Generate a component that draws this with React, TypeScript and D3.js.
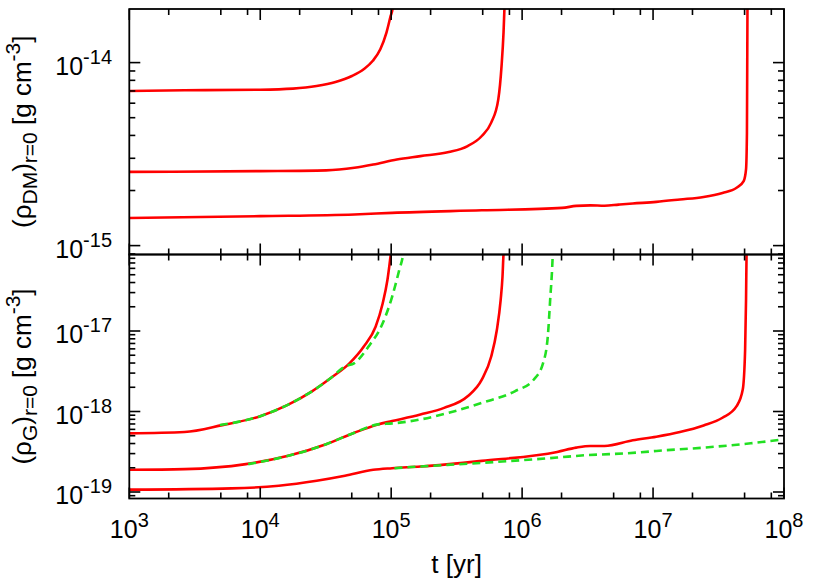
import React from "react";
import * as d3 from "d3";

// ---------- layout ----------
const W = 830;
const H = 581;
const X0 = 129.3;
const X1 = 784;
const TOP0 = 9;
const SEP = 254.5;
const BOT1 = 498.5;
const FONT = "'Liberation Sans', Arial, Helvetica, sans-serif";

// ---------- axes ----------
const xDomain = [1e3, 1e8];
const topDomainLog = [-15.0486, -13.7071];
const botDomainLog = [-19.0807, -16.0497];
const xTickExps = [3, 4, 5, 6, 7, 8];
const xMinorMult = [2, 5, 8];
const topTickExps = [-15, -14];
const botTickExps = [-19, -18, -17];
const yMinorMult = [2, 3, 4, 5, 6, 7, 8, 9];

// ---------- data (log10 t [yr], log10 rho [g cm^-3]) ----------
// Dark matter central density (top panel)
const dmA_logT = [3.0, 3.422, 4.0, 4.25, 4.43, 4.575, 4.7, 4.79, 4.86, 4.917, 4.964, 4.996, 5.011, 5.015];
const dmA_logRho = [-14.155, -14.151, -14.148, -14.142, -14.128, -14.106, -14.073, -14.036, -13.99, -13.927, -13.836, -13.745, -13.704, -13.65];

const dmB_logT = [3.0, 4.0, 4.503, 4.719, 4.863, 5.043, 5.223, 5.44, 5.584, 5.692, 5.764, 5.818, 5.843, 5.858, 5.865, 5.868];
const dmB_logRho = [-14.597, -14.593, -14.589, -14.575, -14.557, -14.529, -14.511, -14.489, -14.456, -14.401, -14.328, -14.201, -14.018, -13.836, -13.704, -13.65];

const dmC_logT = [3.0, 4.0, 4.719, 5.007, 5.692, 6.305, 6.413, 6.521, 6.629, 6.737, 6.845, 7.025, 7.205, 7.386, 7.53, 7.638, 7.692, 7.71, 7.717, 7.721, 7.722];
const dmC_logRho = [-14.849, -14.839, -14.83, -14.821, -14.807, -14.794, -14.783, -14.78, -14.782, -14.776, -14.77, -14.761, -14.748, -14.734, -14.712, -14.684, -14.648, -14.584, -14.383, -13.704, -13.65];

// Gas central density (bottom panel), red solid
const gasA_logT = [3.0, 3.422, 3.71, 4.0, 4.214, 4.395, 4.539, 4.683, 4.791, 4.881, 4.935, 4.971, 4.996, 5.005];
const gasA_logRho = [-18.272, -18.255, -18.169, -18.058, -17.914, -17.749, -17.584, -17.399, -17.193, -16.947, -16.658, -16.37, -16.062, -15.95];

const gasB_logT = [3.0, 3.422, 3.89, 4.214, 4.503, 4.719, 4.899, 5.007, 5.223, 5.404, 5.584, 5.692, 5.764, 5.807, 5.836, 5.85, 5.858, 5.862];
const gasB_logRho = [-18.724, -18.716, -18.654, -18.551, -18.407, -18.263, -18.16, -18.119, -18.037, -17.955, -17.811, -17.605, -17.317, -16.988, -16.617, -16.329, -16.04, -15.95];

const gasC_logT = [3.0, 3.782, 4.142, 4.431, 4.647, 4.863, 5.007, 5.223, 5.692, 6.268, 6.413, 6.521, 6.629, 6.845, 7.025, 7.205, 7.386, 7.53, 7.638, 7.685, 7.703, 7.71, 7.714, 7.716];
const gasC_logRho = [-18.971, -18.955, -18.922, -18.86, -18.798, -18.724, -18.704, -18.683, -18.613, -18.502, -18.449, -18.428, -18.428, -18.358, -18.313, -18.255, -18.173, -18.078, -17.934, -17.728, -17.235, -16.617, -16.06, -15.95];

// Gas central density, green dashed
const gasA2_logT = [3.692, 4.0, 4.214, 4.395, 4.539, 4.647, 4.719, 4.827, 4.935, 5.007, 5.061, 5.09, 5.1];
const gasA2_logRho = [-18.169, -18.058, -17.914, -17.749, -17.584, -17.44, -17.399, -17.193, -16.905, -16.576, -16.247, -16.06, -15.95];

const gasB2_logT = [3.908, 4.214, 4.503, 4.719, 4.899, 5.007, 5.223, 5.44, 5.692, 5.944, 6.088, 6.16, 6.196, 6.214, 6.232, 6.236];
const gasB2_logRho = [-18.654, -18.551, -18.407, -18.263, -18.16, -18.148, -18.099, -18.016, -17.893, -17.749, -17.605, -17.399, -17.07, -16.617, -16.123, -15.95];

const gasC2_logT = [5.025, 5.223, 5.692, 6.268, 6.485, 6.665, 6.881, 7.025, 7.386, 7.746, 8.0];
const gasC2_logRho = [-18.704, -18.683, -18.638, -18.572, -18.543, -18.53, -18.51, -18.49, -18.449, -18.395, -18.346];

type P = { t: number; v: number };
const pts = (lt: number[], lv: number[]): P[] =>
  lt.map((a, i) => ({ t: Math.pow(10, a), v: Math.pow(10, lv[i]) }));

const RED = "#ff0000";
const GREEN = "#22e022";

export default function App() {
  const x = d3.scaleLog().domain(xDomain).range([X0, X1]);
  const yTop = d3
    .scaleLog()
    .domain(topDomainLog.map((d) => Math.pow(10, d)))
    .range([SEP, TOP0]);
  const yBot = d3
    .scaleLog()
    .domain(botDomainLog.map((d) => Math.pow(10, d)))
    .range([BOT1, SEP]);

  const lineTop = d3
    .line<P>()
    .x((d) => x(d.t))
    .y((d) => yTop(d.v))
    .curve(d3.curveMonotoneX);
  const lineBot = d3
    .line<P>()
    .x((d) => x(d.t))
    .y((d) => yBot(d.v))
    .curve(d3.curveMonotoneX);

  const topRed = [
    pts(dmA_logT, dmA_logRho),
    pts(dmB_logT, dmB_logRho),
    pts(dmC_logT, dmC_logRho),
  ];
  const botRed = [
    pts(gasA_logT, gasA_logRho),
    pts(gasB_logT, gasB_logRho),
    pts(gasC_logT, gasC_logRho),
  ];
  const botGreen = [
    pts(gasA2_logT, gasA2_logRho),
    pts(gasB2_logT, gasB2_logRho),
    pts(gasC2_logT, gasC2_logRho),
  ];

  const MAJ = 11;
  const MIN = 6;

  // x ticks
  const xMajor = xTickExps.map((e) => Math.pow(10, e));
  const xMinor: number[] = [];
  xTickExps.slice(0, -1).forEach((e) =>
    xMinorMult.forEach((m) => xMinor.push(m * Math.pow(10, e)))
  );
  const xTicks = [
    ...xMajor.map((v) => ({ v, len: MAJ })),
    ...xMinor.map((v) => ({ v, len: MIN })),
  ];

  const yTicksFor = (domLog: number[], exps: number[]) => {
    const lo = Math.pow(10, domLog[0]);
    const hi = Math.pow(10, domLog[1]);
    const out: { v: number; len: number }[] = [];
    const e0 = Math.floor(domLog[0]);
    const e1 = Math.ceil(domLog[1]);
    for (let e = e0; e <= e1; e++) {
      const base = Math.pow(10, e);
      if (base >= lo && base <= hi) out.push({ v: base, len: MAJ });
      yMinorMult.forEach((m) => {
        const v = m * base;
        if (v > lo * 1.001 && v < hi * 0.999) out.push({ v, len: MIN });
      });
    }
    return out;
  };
  const topYTicks = yTicksFor(topDomainLog, topTickExps);
  const botYTicks = yTicksFor(botDomainLog, botTickExps);

  const tickStroke = { stroke: "#000", strokeWidth: 1.6 };

  const xTickLines = (yEdge: number, dir: number, key: string) =>
    xTicks.map((t, i) => (
      <line
        key={key + i}
        x1={x(t.v)}
        x2={x(t.v)}
        y1={yEdge}
        y2={yEdge + dir * t.len}
        {...tickStroke}
      />
    ));

  const yTickLines = (
    ticks: { v: number; len: number }[],
    ys: (v: number) => number,
    key: string
  ) =>
    ticks.flatMap((t, i) => [
      <line
        key={key + "l" + i}
        x1={X0}
        x2={X0 + t.len}
        y1={ys(t.v)}
        y2={ys(t.v)}
        {...tickStroke}
      />,
      <line
        key={key + "r" + i}
        x1={X1}
        x2={X1 - t.len}
        y1={ys(t.v)}
        y2={ys(t.v)}
        {...tickStroke}
      />,
    ]);

  const yLabel = (e: number, ys: (v: number) => number, key: string) => (
    <text
      key={key}
      x={112}
      y={ys(Math.pow(10, e)) + 12}
      textAnchor="end"
      fontFamily={FONT}
      fontSize={25}
    >
      10
      <tspan dy={-11} fontSize={20}>
        {String(e)}
      </tspan>
    </text>
  );

  return (
    <div style={{ position: "absolute", left: 0, top: 0 }}>
      <svg width={W} height={H} viewBox={`0 0 ${W} ${H}`} style={{ display: "block", background: "#fff" }}>
        <defs>
          <clipPath id="clipTop">
            <rect x={X0} y={TOP0} width={X1 - X0} height={SEP - TOP0} />
          </clipPath>
          <clipPath id="clipBot">
            <rect x={X0} y={SEP} width={X1 - X0} height={BOT1 - SEP} />
          </clipPath>
        </defs>
        <rect x={0} y={0} width={W} height={H} fill="#fff" />

        {/* curves */}
        <g clipPath="url(#clipTop)" fill="none">
          {topRed.map((d, i) => (
            <path key={"tr" + i} d={lineTop(d) || ""} stroke={RED} strokeWidth={2.6} strokeLinejoin="round" />
          ))}
        </g>
        <g clipPath="url(#clipBot)" fill="none">
          {botRed.map((d, i) => (
            <path key={"br" + i} d={lineBot(d) || ""} stroke={RED} strokeWidth={2.6} strokeLinejoin="round" />
          ))}
          {botGreen.map((d, i) => (
            <path
              key={"bg" + i}
              d={lineBot(d) || ""}
              stroke={GREEN}
              strokeWidth={2.6}
              strokeDasharray="8,5"
            />
          ))}
        </g>

        {/* ticks */}
        {xTickLines(TOP0, 1, "xt")}
        {xTickLines(SEP, -1, "xs1")}
        {xTickLines(SEP, 1, "xs2")}
        {xTickLines(BOT1, -1, "xb")}
        {yTickLines(topYTicks, yTop, "yt")}
        {yTickLines(botYTicks, yBot, "yb")}

        {/* frames */}
        <rect x={X0} y={TOP0} width={X1 - X0} height={SEP - TOP0} fill="none" stroke="#000" strokeWidth={1.8} />
        <rect x={X0} y={SEP} width={X1 - X0} height={BOT1 - SEP} fill="none" stroke="#000" strokeWidth={1.8} />

        {/* tick labels */}
        {topTickExps.map((e) => yLabel(e, yTop, "lt" + e))}
        {botTickExps.map((e) => yLabel(e, yBot, "lb" + e))}
        {xTickExps.map((e) => (
          <text
            key={"xl" + e}
            x={x(Math.pow(10, e))}
            y={538}
            textAnchor="middle"
            fontFamily={FONT}
            fontSize={25}
          >
            10
            <tspan dy={-11} fontSize={20}>
              {String(e)}
            </tspan>
          </text>
        ))}

        {/* axis titles */}
        <text x={(X0 + X1) / 2} y={573} textAnchor="middle" fontFamily={FONT} fontSize={26}>
          t [yr]
        </text>
        <text
          transform={`translate(31,${(TOP0 + SEP) / 2}) rotate(-90)`}
          textAnchor="middle"
          fontFamily={FONT}
          fontSize={26}
        >
          (ρ<tspan dy={6} fontSize={21}>DM</tspan>
          <tspan dy={-6}>)</tspan>
          <tspan dy={6} fontSize={21}>r=0</tspan>
          <tspan dy={-6}> [g cm</tspan>
          <tspan dy={-11} fontSize={21}>-3</tspan>
          <tspan dy={11}>]</tspan>
        </text>
        <text
          transform={`translate(31,${(SEP + BOT1) / 2}) rotate(-90)`}
          textAnchor="middle"
          fontFamily={FONT}
          fontSize={26}
        >
          (ρ<tspan dy={6} fontSize={21}>G</tspan>
          <tspan dy={-6}>)</tspan>
          <tspan dy={6} fontSize={21}>r=0</tspan>
          <tspan dy={-6}> [g cm</tspan>
          <tspan dy={-11} fontSize={21}>-3</tspan>
          <tspan dy={11}>]</tspan>
        </text>
      </svg>
    </div>
  );
}
